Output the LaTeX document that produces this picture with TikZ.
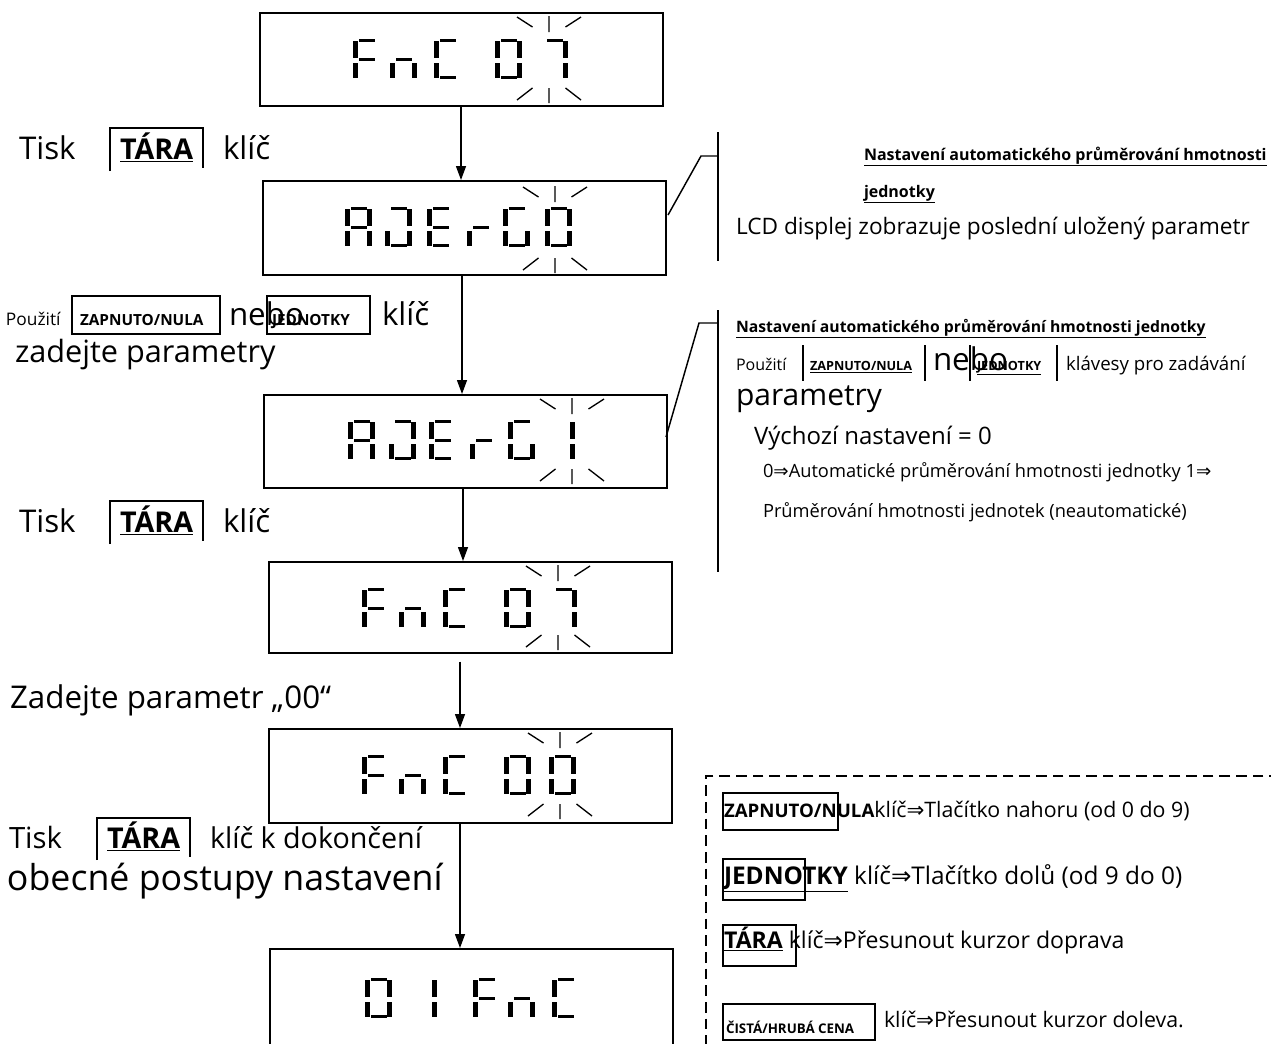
\documentclass[tikz,border=0pt]{standalone}
\usepackage{fontspec}
\setmainfont{Open Sans}
\newfontfamily\symfont{DejaVu Sans}
\usetikzlibrary{arrows.meta}
\newcommand\imp{{\symfont ⇒}}
\newcommand\fsz[1]{\fontsize{#1}{#1}\selectfont}

% one segment of a seven-segment glyph: x, y (top-left of the cell), index a..g = 0..6
\newcommand\lcdseg[3]{%
  \ifcase#3\relax
    \fill ({#1+5.5},{#2}) rectangle ({#1+21.5},{#2+3.3});%
  \or \fill ({#1+22},{#2+2}) rectangle ({#1+27},{#2+18.5});%
  \or \fill ({#1+22},{#2+23.5}) rectangle ({#1+27},{#2+39});%
  \or \fill ({#1+5.5},{#2+37}) rectangle ({#1+21.5},{#2+40.3});%
  \or \fill ({#1},{#2+23.5}) rectangle ({#1+5},{#2+39});%
  \or \fill ({#1},{#2+2}) rectangle ({#1+5},{#2+18.5});%
  \or \fill ({#1+5.5},{#2+19}) rectangle ({#1+21.5},{#2+22.3});%
  \fi}
\newcommand\lcdchar[3]{\foreach \sg in #3 {\lcdseg{#1}{#2}{\sg}}}
% segment sets
\def\gF{0,4,5,6}
\def\gN{2,4,6}
\def\gC{0,3,4,5}
\def\gO{0,1,2,3,4,5}
\def\gS{0,1,2}
\def\gA{0,1,2,4,5,6}
\def\gU{0,1,2,3,4}
\def\gE{0,3,4,5,6}
\def\gR{4,6}
\def\gG{0,2,3,4,5}
\def\gI{1,2}
% blinking marks above and below a digit: centre x, top y, bottom y
\newcommand\blink[3]{%
  \draw[blinkline] ({#1-32},{#2+1}) -- ({#1-16.5},{#2+11})
     ({#1},{#2}) -- ({#1},{#2+16})
     ({#1+16.5},{#2+11}) -- ({#1+32},{#2+1});
  \draw[blinkline] ({#1-32},{#3-3}) -- ({#1-16.5},{#3-15})
     ({#1},{#3-15}) -- ({#1},{#3})
     ({#1+16.5},{#3-15}) -- ({#1+32},{#3-3});}

\begin{document}
\begin{tikzpicture}[x=0.75pt,y=-0.75pt,
  lcdbox/.style={draw, line width=1.2pt, minimum width=302.25pt, inner sep=0pt, anchor=north west},
  flow/.style={-{Triangle[length=10.5pt,width=7.5pt]}, line width=1pt},
  blinkline/.style={line width=1pt},
  keyline/.style={line width=1.3pt},
  barline/.style={line width=1.9pt},
  bracket/.style={line width=1.1pt},
  txt/.style={anchor=base west, inner sep=0pt, outer sep=0pt},
  dashbox/.style={line width=1.5pt, dash pattern=on 8pt off 4.5pt}]
\fill[white] (0,0) rectangle (1271,1043);
\useasboundingbox (0,0) rectangle (1271,1043);

% ---- display boxes ----
\node[lcdbox, minimum height=69.75pt] (b1) at (259,12) {};
\node[lcdbox, minimum height=70.5pt] (b2) at (262,180) {};
\node[lcdbox, minimum height=69.75pt] (b3) at (263,394) {};
\node[lcdbox, minimum height=68.25pt] (b4) at (268,561) {};
\node[lcdbox, minimum height=70.5pt] (b5) at (268,728) {};
\node[lcdbox, minimum height=80pt] (b6) at (269,948) {};

% FnC 07
\lcdchar{353}{39}{\gF}\lcdchar{390}{39}{\gN}\lcdchar{434}{39}{\gC}
\lcdchar{495}{39}{\gO}\lcdchar{541}{39}{\gS}
\blink{549}{16}{103}
% AvErG0
\lcdchar{345}{207}{\gA}\lcdchar{385}{207}{\gU}\lcdchar{427}{207}{\gE}
\lcdchar{467}{207}{\gR}\lcdchar{503}{207}{\gG}\lcdchar{545}{207}{\gO}
\blink{555}{186}{273}
% AvErG 1
\lcdchar{348}{420}{\gA}\lcdchar{389}{420}{\gU}\lcdchar{429}{420}{\gE}
\lcdchar{470}{420}{\gR}\lcdchar{508}{420}{\gG}\lcdchar{548}{420}{\gI}
\blink{572}{398}{484}
% FnC 07
\lcdchar{362}{588}{\gF}\lcdchar{399}{588}{\gN}\lcdchar{443}{588}{\gC}
\lcdchar{504}{588}{\gO}\lcdchar{550}{588}{\gS}
\blink{558}{565}{650}
% FnC 00
\lcdchar{362}{755}{\gF}\lcdchar{399}{755}{\gN}\lcdchar{443}{755}{\gC}
\lcdchar{504}{755}{\gO}\lcdchar{549}{755}{\gO}
\blink{560}{732}{819}
% 01FnC
\lcdchar{365}{978}{\gO}\lcdchar{410}{978}{\gI}\lcdchar{473}{978}{\gF}
\lcdchar{508}{978}{\gN}\lcdchar{552}{978}{\gC}

% ---- flow arrows ----
\draw[flow] (461,0 |- b1.south) -- (461,0 |- b2.north);
\draw[flow] (462,0 |- b2.south) -- (462,0 |- b3.north);
\draw[flow] (463,0 |- b3.south) -- (463,0 |- b4.north);
\draw[flow, shorten <=6pt] (460,0 |- b4.south) -- (460,0 |- b5.north);
\draw[flow] (460,0 |- b5.south) -- (460,0 |- b6.north);

% ---- left instructions ----
\node[txt, font=\fsz{23.5}] (tisk1) at (19,159) {Tisk};
\node[txt, font={\fsz{21.5}\bfseries}] (tara1) at (120,159) {\underline{TÁRA}};
\node[txt, font=\fsz{23.5}] (klic1) at (223,159) {klíč};
\draw[keyline] (110,171) |- (203,128) -- (203,168);

\node[txt, font=\fsz{13}] (pouz1) at (6,325) {Použití};
\draw[keyline] (72,296) rectangle (220,334);
\node[txt, font={\fsz{11.5}\bfseries}] (zap1) at (80,325) {ZAPNUTO/NULA};
\node[txt, font=\fsz{23.5}] (nebo1) at (229,325) {nebo};
\draw[keyline] (267,296) rectangle (370,334);
\node[txt, font={\fsz{11.5}\bfseries}] (jed1) at (272,325) {JEDNOTKY};
\node[txt, font=\fsz{23.5}] (klic2) at (382,325) {klíč};
\node[txt, font=\fsz{23}] (zad1) at (15,362) {zadejte parametry};

\node[txt, font=\fsz{23.5}] (tisk2) at (19,532) {Tisk};
\node[txt, font={\fsz{21.5}\bfseries}] (tara2) at (120,532) {\underline{TÁRA}};
\node[txt, font=\fsz{23.5}] (klic3) at (223,532) {klíč};
\draw[keyline] (110,544) |- (203,501) -- (203,541);

\node[txt, font=\fsz{23.5}] (zad2) at (10,708) {Zadejte parametr „00“};

\node[txt, font=\fsz{22}] (tisk3) at (9,848) {Tisk};
\node[txt, font={\fsz{21.5}\bfseries}] (tara3) at (107,848) {\underline{TÁRA}};
\node[txt, font=\fsz{21.5}] (klic4) at (210,848) {klíč k dokončení};
\draw[keyline] (97,860) |- (190,818) -- (190,857);
\node[txt, font=\fsz{26.8}] (obec) at (7,890) {obecné postupy nastavení};

% ---- first side note ----
\coordinate (n1top) at (718,132);
\coordinate (n1bot) at (718,261);
\coordinate (n1knee) at (701,156);
\coordinate (n1foot) at (668,215);
\draw[bracket] (n1top) -- (n1bot);
\draw[bracket] (n1foot) -- (n1knee) -- (n1knee -| n1top);
\node[txt, font={\fsz{12}\bfseries}] (h1) at (864,160) {\underline{Nastavení automatického průměrování hmotnosti}};
\node[txt, font={\fsz{12}\bfseries}] (h1b) at (864,197) {\underline{jednotky}};
\node[txt, font=\fsz{17}] (lcd) at (736,234) {LCD displej zobrazuje poslední uložený parametr};

% ---- second side note ----
\coordinate (n2top) at (718,310);
\coordinate (n2bot) at (718,572);
\coordinate (n2knee) at (699,323);
\coordinate (n2foot) at (666,437);
\draw[bracket] (n2top) -- (n2bot);
\draw[bracket] (n2foot) -- (n2knee) -- (n2knee -| n2top);
\node[txt, font={\fsz{11.8}\bfseries}] (h2) at (736,332) {\underline{Nastavení automatického průměrování hmotnosti jednotky}};
\node[txt, font=\fsz{12}] (pouz2) at (736,370) {Použití};
\draw[barline] (803,345) -- (803,381);
\node[txt, font={\fsz{9.5}\bfseries}] (zap2) at (810,370) {\underline{ZAPNUTO/NULA}};
\draw[barline] (925,345) -- (925,381);
\node[txt, font=\fsz{23.5}] (nebo2) at (933,370) {nebo};
\draw[barline] (970,345) -- (970,381);
\node[txt, font={\fsz{9.5}\bfseries}] (jed2) at (977,370) {\underline{JEDNOTKY}};
\draw[barline] (1057,345) -- (1057,381);
\node[txt, font=\fsz{14}] (klav) at (1066,370) {klávesy pro zadávání};
\node[txt, font=\fsz{22.5}] (param) at (736,405) {parametry};
\node[txt, font=\fsz{18}] (vych) at (754,444) {Výchozí nastavení = 0};
\node[txt, font=\fsz{13.7}] (opt1) at (763,477) {0\imp Automatické průměrování hmotnosti jednotky 1\imp};
\node[txt, font=\fsz{13.7}] (opt2) at (763,517) {Průměrování hmotnosti jednotek (neautomatické)};

% ---- key legend ----
\draw[dashbox] (1280,776) -- (706,776) -- (706,1050);
\draw[keyline] (723,793) rectangle (838,830);
\node[txt, font=\fsz{16}] (leg1) at (724,817) {{\fsz{14}\bfseries ZAPNUTO/NULA}klíč\imp Tlačítko nahoru (od 0 do 9)};
\draw[keyline] (723,859) rectangle (805,900);
\node[txt, font=\fsz{18.3}] (leg2) at (724,884) {\textbf{\underline{JEDNOTKY}} klíč\imp Tlačítko dolů (od 9 do 0)};
\draw[keyline] (723,925) rectangle (796,966);
\node[txt, font=\fsz{17.3}] (leg3) at (724,948) {\textbf{\underline{TÁRA}} klíč\imp Přesunout kurzor doprava};
\draw[keyline] (723,1004) rectangle (875,1040);
\node[txt, font={\fsz{10}\bfseries}] (leg4k) at (726,1033) {ČISTÁ/HRUBÁ CENA};
\node[txt, font=\fsz{16}] (leg4) at (884,1027) {klíč\imp Přesunout kurzor doleva.};
\end{tikzpicture}
\end{document}
